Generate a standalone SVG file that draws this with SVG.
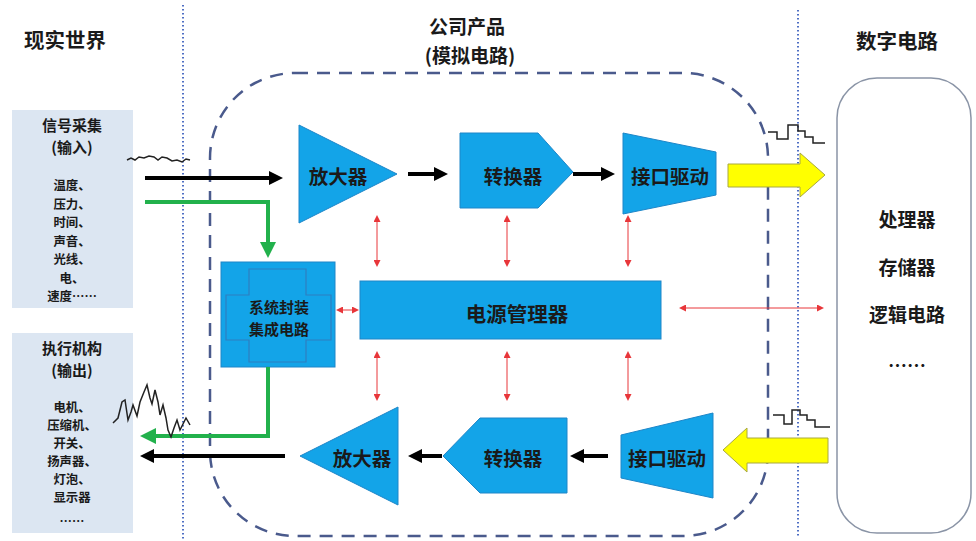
<svg xmlns="http://www.w3.org/2000/svg" width="976" height="541" viewBox="0 0 976 541">
<style>
text{font-family:"Noto Sans CJK SC","Noto Sans",sans-serif;font-weight:bold;fill:#1a1a1a;text-anchor:middle;dominant-baseline:central}
.t{font-size:20.5px}
.t2{font-size:19px}
.lbl{font-size:19.5px}
.rt{font-size:19px}
.sip{font-size:15px}
.side{font-size:15px}
.item{font-size:12.4px}
.blue{fill:#13A4E8;stroke:#1E86C8;stroke-width:1}
.panel{fill:#DCE6F2}
.blk{stroke:#000;stroke-width:4;fill:none}
.grn{stroke:#22B14C;stroke-width:4;fill:none}
.red{stroke:#E8363A;stroke-width:1;fill:none}
.yel{fill:#FFFF00;stroke:#A8A840;stroke-width:1}
.dot{stroke:#4F6FC4;stroke-width:2;stroke-dasharray:1.5 2.5;fill:none}
.wave{stroke:#222;stroke-width:1.5;fill:none}
</style>
<defs>
<marker id="hb" viewBox="0 0 10 10" refX="0" refY="5" markerWidth="14" markerHeight="14" markerUnits="userSpaceOnUse" orient="auto"><path d="M0,0 L10,5 L0,10 z" fill="#000"/></marker>
<marker id="hg" viewBox="0 0 10 10" refX="0" refY="5" markerWidth="16" markerHeight="16" markerUnits="userSpaceOnUse" orient="auto"><path d="M0,0 L10,5 L0,10 z" fill="#22B14C"/></marker>
<marker id="hr" viewBox="0 0 10 10" refX="0" refY="5" markerWidth="7" markerHeight="7" markerUnits="userSpaceOnUse" orient="auto-start-reverse"><path d="M0,0 L10,5 L0,10 z" fill="#E8363A"/></marker>
</defs>
<rect width="976" height="541" fill="#fff"/>

<!-- boundaries -->
<g id="boundaries">
<line class="dot" x1="183" y1="5" x2="183" y2="541"/>
<line class="dot" x1="798" y1="10" x2="798" y2="538"/>
<rect x="210" y="73" width="558" height="463" rx="85" ry="85" fill="none" stroke="#4A5A8C" stroke-width="2.5" stroke-dasharray="13 9"/>
</g>

<!-- titles -->
<g id="titles">
<text class="t" x="65" y="39">现实世界</text>
<text class="t2" x="467" y="25">公司产品</text>
<text class="t2" x="470" y="54">(模拟电路)</text>
<text class="t" x="897" y="40">数字电路</text>
</g>

<g id="input">
<rect class="panel" x="12" y="110" width="121" height="198"/>
<text class="side" x="72" y="124">信号采集</text>
<text class="side" x="72" y="146">(输入)</text>
<text class="item" x="72" y="185">温度、</text>
<text class="item" x="72" y="203.5">压力、</text>
<text class="item" x="72" y="222">时间、</text>
<text class="item" x="72" y="240.5">声音、</text>
<text class="item" x="72" y="259">光线、</text>
<text class="item" x="72" y="277.5">电、</text>
<text class="item" x="72" y="296">速度……</text>
</g>

<g id="output">
<rect class="panel" x="12" y="333" width="121" height="200"/>
<text class="side" x="72" y="347">执行机构</text>
<text class="side" x="72" y="369">(输出)</text>
<text class="item" x="72" y="407">电机、</text>
<text class="item" x="72" y="425">压缩机、</text>
<text class="item" x="72" y="443">开关、</text>
<text class="item" x="72" y="461">扬声器、</text>
<text class="item" x="72" y="479">灯泡、</text>
<text class="item" x="72" y="497">显示器</text>
<text class="item" x="72" y="521">……</text>
</g>

<g id="digital">
<rect x="837" y="78" width="134" height="455" rx="40" ry="40" fill="#fff" stroke="#8A94A6" stroke-width="1.5"/>
<text class="rt" x="907" y="218">处理器</text>
<text class="rt" x="907" y="266">存储器</text>
<text class="rt" x="907" y="313">逻辑电路</text>
<text class="rt" x="907" y="364">……</text>
</g>

<g id="amp1">
<polygon class="blue" points="299,125 397,174 299,223"/>
<text class="lbl" x="338" y="175">放大器</text>
</g>
<g id="conv1">
<polygon class="blue" points="460,133 538,133 573,172 538,208 460,208"/>
<text class="lbl" x="513" y="175">转换器</text>
</g>
<g id="iface1">
<polygon class="blue" points="623,133 716,152 716,195 623,214"/>
<text class="lbl" x="670" y="175">接口驱动</text>
</g>

<g id="amp2">
<polygon class="blue" points="398,407 300,456 398,505"/>
<text class="lbl" x="362" y="457">放大器</text>
</g>
<g id="conv2">
<polygon class="blue" points="567,418 480,418 443,456 480,493 567,493"/>
<text class="lbl" x="513" y="457">转换器</text>
</g>
<g id="iface2">
<polygon class="blue" points="621,435 713,413 713,498 621,478"/>
<text class="lbl" x="667" y="457">接口驱动</text>
</g>

<g id="sip">
<rect class="blue" x="221" y="262" width="114" height="105"/>
<path d="M249,269 H306 V295 H331 V340 H306 V362 H249 V340 H226 V295 H249 Z" fill="none" stroke="#2F7FC0" stroke-width="1.2"/>
<text class="sip" x="279" y="306">系统封装</text>
<text class="sip" x="279" y="328">集成电路</text>
</g>

<g id="pmu">
<rect class="blue" x="360" y="281" width="301" height="58"/>
<text class="t" x="517" y="313">电源管理器</text>
</g>

<g id="connectors">
<line class="blk" x1="145" y1="178" x2="269" y2="178" marker-end="url(#hb)"/>
<line class="blk" x1="408" y1="174" x2="434" y2="174" marker-end="url(#hb)"/>
<line class="blk" x1="573" y1="174" x2="601" y2="174" marker-end="url(#hb)"/>
<line class="blk" x1="608" y1="456" x2="584" y2="456" marker-end="url(#hb)"/>
<line class="blk" x1="442" y1="456" x2="422" y2="456" marker-end="url(#hb)"/>
<line class="blk" x1="285" y1="456" x2="154" y2="456" marker-end="url(#hb)"/>
<path class="grn" d="M145,202 H268 V242" marker-end="url(#hg)"/>
<path class="grn" d="M268,367 V436 H156" marker-end="url(#hg)"/>
<line class="red" x1="377" y1="222" x2="377" y2="260" marker-start="url(#hr)" marker-end="url(#hr)"/>
<line class="red" x1="507" y1="222" x2="507" y2="260" marker-start="url(#hr)" marker-end="url(#hr)"/>
<line class="red" x1="628" y1="222" x2="628" y2="260" marker-start="url(#hr)" marker-end="url(#hr)"/>
<line class="red" x1="377" y1="358" x2="377" y2="394" marker-start="url(#hr)" marker-end="url(#hr)"/>
<line class="red" x1="507" y1="358" x2="507" y2="394" marker-start="url(#hr)" marker-end="url(#hr)"/>
<line class="red" x1="628" y1="358" x2="628" y2="394" marker-start="url(#hr)" marker-end="url(#hr)"/>
<line class="red" x1="343" y1="310" x2="352" y2="310" marker-start="url(#hr)" marker-end="url(#hr)"/>
<line class="red" x1="686" y1="308" x2="817" y2="308" marker-start="url(#hr)" marker-end="url(#hr)"/>
<polygon class="yel" points="728,164 800,164 800,153 825,175 800,197 800,187 728,187"/>
<polygon class="yel" points="828,438 747,438 747,428 723,450 747,472 747,463 828,463"/>
</g>

<g id="signals">
<polyline class="wave" points="127,160 131,158 135,160 139,157 144,158 149,156 154,157 158,160 162,157 167,158 172,161 177,160 182,162 186,159 190,160"/>
<polyline class="wave" points="113,423 118,418 122,402 125,400 128,420 131,412 133,405 137,416 140,402 144,392 147,385 150,398 152,404 155,390 158,402 160,415 163,405 166,418 168,430 171,437 174,428 177,420 180,430 183,424 186,418 190,425"/>
<polyline class="wave" points="768,132 777,132 777,139 788,139 788,125 798,125 798,131 805,131 805,137 813,137 813,143 825,143"/>
<polyline class="wave" points="773,415 784,415 784,424 792,424 792,410 800,410 800,415 807,415 807,420 815,420 815,427 830,427"/>
</g>
</svg>
